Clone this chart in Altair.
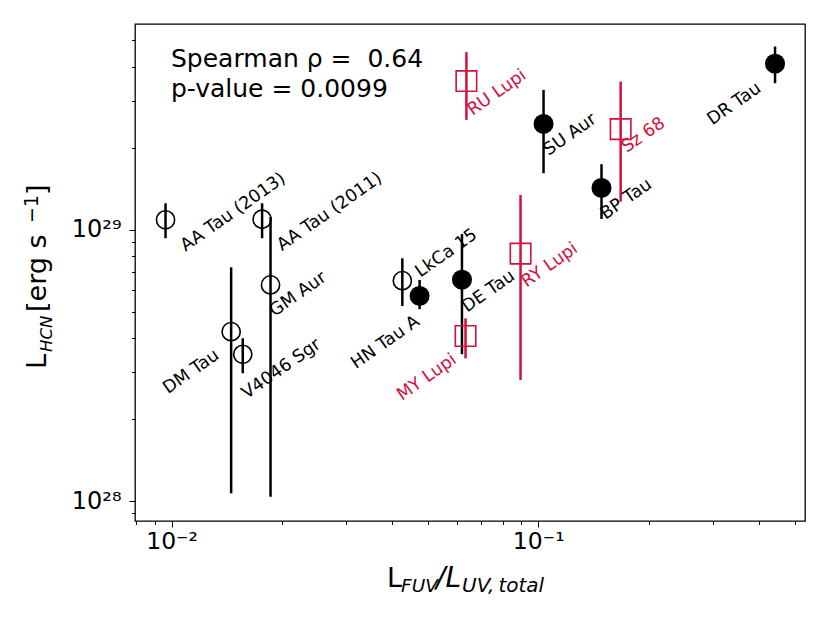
import math
import altair as alt
import pandas as pd

# ---------------- data ----------------
names = ["AA Tau (2013)", "AA Tau (2011)", "GM Aur", "DM Tau", "V4046 Sgr", "LkCa 15",
         "HN Tau A", "DE Tau", "SU Aur", "BP Tau", "DR Tau",
         "RU Lupi", "MY Lupi", "RY Lupi", "Sz 68"]
frac = [0.00963, 0.01766, 0.01862, 0.01454, 0.01564, 0.0426,
        0.04748, 0.06195, 0.1034, 0.1488, 0.4424,
        0.0637, 0.06335, 0.08949, 0.1678]
lhcn = [1.09e29, 1.095e29, 6.27e28, 4.215e28, 3.477e28, 6.50e28,
        5.71e28, 6.555e28, 2.461e29, 1.429e29, 4.105e29,
        3.541e29, 4.063e28, 8.177e28, 2.355e29]
lhcn_lo = [9.32e28, 9.32e28, 1.037e28, 1.068e28, 2.96e28, 5.24e28,
           5.10e28, 3.48e28, 1.619e29, 1.098e29, 3.478e29,
           2.546e29, 3.36e28, 2.796e28, 1.272e29]
lhcn_hi = [1.254e29, 1.254e29, 1.117e29, 7.28e28, 3.985e28, 7.86e28,
           6.54e28, 9.67e28, 3.285e29, 1.748e29, 4.75e29,
           4.527e29, 4.72e28, 1.346e29, 3.526e29]
kind = ["open"] * 6 + ["filled"] * 5 + ["lupus"] * 4

x_ticks = [0.008, 0.009, 0.01, 0.02, 0.03, 0.04, 0.05, 0.06, 0.07, 0.08, 0.09,
           0.1, 0.2, 0.3, 0.4, 0.5]
y_ticks = [9e27, 1e28, 2e28, 3e28, 4e28, 5e28, 6e28, 7e28, 8e28, 9e28,
           1e29, 2e29, 3e29, 4e29, 5e29]
x_domain = [0.00795, 0.534]
y_domain = [8.44e27, 5.75e29]

stat_lines = ["Spearman \u03c1 = \u00a00.64", "p-value = 0.0099"]

df = pd.DataFrame({"name": names, "frac": frac, "lhcn": lhcn,
                   "lo": lhcn_lo, "hi": lhcn_hi, "kind": kind})

# ---------------- styles ----------------
FONT = "DejaVu Sans"
RED = "#d3103e"
W, H = 670, 497
ANG = 325  # text rotated 35 deg counter-clockwise

# label placement (align, screen offset x, y from the point)
label_place = {
    "AA Tau (2013)": ("left", 20, 32),
    "AA Tau (2011)": ("left", 20, 32),
    "GM Aur": ("left", 4, 32),
    "DM Tau": ("right", -11, 26),
    "V4046 Sgr": ("left", 4, 45),
    "LkCa 15": ("left", 18, -3),
    "HN Tau A": ("right", 1, 28),
    "DE Tau": ("left", 5, 33),
    "SU Aur": ("left", 5, 32),
    "BP Tau": ("left", 4, 32),
    "DR Tau": ("right", -13, 27),
    "RU Lupi": ("left", 6, 35),
    "MY Lupi": ("right", -8, 26),
    "RY Lupi": ("left", 6, 34),
    "Sz 68": ("left", 6, 24),
}

DEC = "abs(log(datum.value)/LN10 - round(log(datum.value)/LN10)) < 0.001"

xscale = alt.Scale(type="log", domain=x_domain, nice=False)
yscale = alt.Scale(type="log", domain=y_domain, nice=False)

xaxis = alt.Axis(values=x_ticks, title=None, grid=False, domain=False,
                 labelExpr="datum.value == 0.01 ? '10\u207b\u00b2' : (datum.value == 0.1 ? '10\u207b\u00b9' : '')",
                 tickSize={"condition": {"test": DEC, "value": 6}, "value": 3.5},
                 tickColor="black", tickWidth=1, labelFont=FONT, labelFontSize=23.5,
                 labelColor="black", labelPadding=2, labelOverlap=False, labelFlush=False)
yaxis = alt.Axis(values=y_ticks, title=None, grid=False, domain=False,
                 labelExpr=f"({DEC}) ? (round(log(datum.value)/LN10) == 28 ? '10\u00b2\u2078' : '10\u00b2\u2079') : ''",
                 tickSize={"condition": {"test": DEC, "value": 6}, "value": 3.5},
                 tickColor="black", tickWidth=1, labelFont=FONT, labelFontSize=24,
                 labelColor="black", labelPadding=8, labelOverlap=False, labelFlush=False)

base = alt.Chart(df).encode(
    x=alt.X("frac:Q", scale=xscale, axis=xaxis),
    y=alt.Y("lhcn:Q", scale=yscale, axis=yaxis),
)

def errbars(k, color):
    return alt.Chart(df).transform_filter(alt.datum.kind == k).mark_rule(
        color=color, strokeWidth=2.5
    ).encode(x=alt.X("frac:Q", scale=xscale, axis=xaxis),
             y=alt.Y("lo:Q", scale=yscale, axis=yaxis), y2="hi:Q")

eb_open = errbars("open", "black")
eb_fill = errbars("filled", "black")
eb_lup = errbars("lupus", RED)

pts_open = base.transform_filter(alt.datum.kind == "open").mark_point(
    shape="circle", filled=False, size=330, strokeWidth=1.6, color="black", opacity=1)
pts_fill = base.transform_filter(alt.datum.kind == "filled").mark_point(
    shape="circle", filled=True, size=400, color="black", opacity=1)
pts_lup = base.transform_filter(alt.datum.kind == "lupus").mark_point(
    shape="square", filled=False, size=420, strokeWidth=1.6, color=RED, opacity=1)

rad = math.radians(ANG)
labels = []
for n, (al, ox, oy) in label_place.items():
    dx = ox * math.cos(rad) + oy * math.sin(rad)
    dy = -ox * math.sin(rad) + oy * math.cos(rad)
    col = RED if kind[names.index(n)] == "lupus" else "black"
    labels.append(
        base.transform_filter(alt.datum.name == n).mark_text(
            angle=ANG, align=al, baseline="alphabetic", dx=dx, dy=dy,
            fontSize=17.5, font=FONT, color=col
        ).encode(text="name:N")
    )

one = pd.DataFrame({"k": [0]})

def txt(s, x, y, size, italic=False, angle=0):
    kw = dict(align="left", baseline="alphabetic", font=FONT, fontSize=size, color="black")
    if italic:
        kw["fontStyle"] = "italic"
    if angle:
        kw["angle"] = angle
    return alt.Chart(one).mark_text(**kw).encode(
        x=alt.value(x), y=alt.value(y), text=alt.value(s))

annot = [txt(stat_lines[0], 36, 43, 25), txt(stat_lines[1], 36, 73, 25)]

xtitle = [
    txt("L", 252, 563, 27),
    txt("FUV", 266, 568, 18.5, italic=True),
    txt("/L", 301, 563, 28, italic=True),
    txt("UV,\u2009total", 327, 568, 20, italic=True),
]
ytitle = [
    txt("L", -89, 345, 27, angle=270),
    txt("HCN", -83, 328, 16.5, italic=True, angle=270),
    txt("[erg s", -89, 288, 27, angle=270),
    txt("\u22121", -97, 199, 19, angle=270),
    txt("]", -89, 171, 27, angle=270),
]

chart = alt.layer(
    eb_open, eb_fill, eb_lup, pts_open, pts_fill, pts_lup, *labels, *annot, *xtitle, *ytitle
).properties(
    width=W, height=H,
    autosize=alt.AutoSizeParams(type="none"),
    padding={"left": 127, "top": 16, "right": 17, "bottom": 90},
    background="white",
).configure_view(stroke="black", strokeWidth=1.3, strokeOpacity=1)

chart.save("out.html", embed_options={"renderer": "svg", "actions": False})
